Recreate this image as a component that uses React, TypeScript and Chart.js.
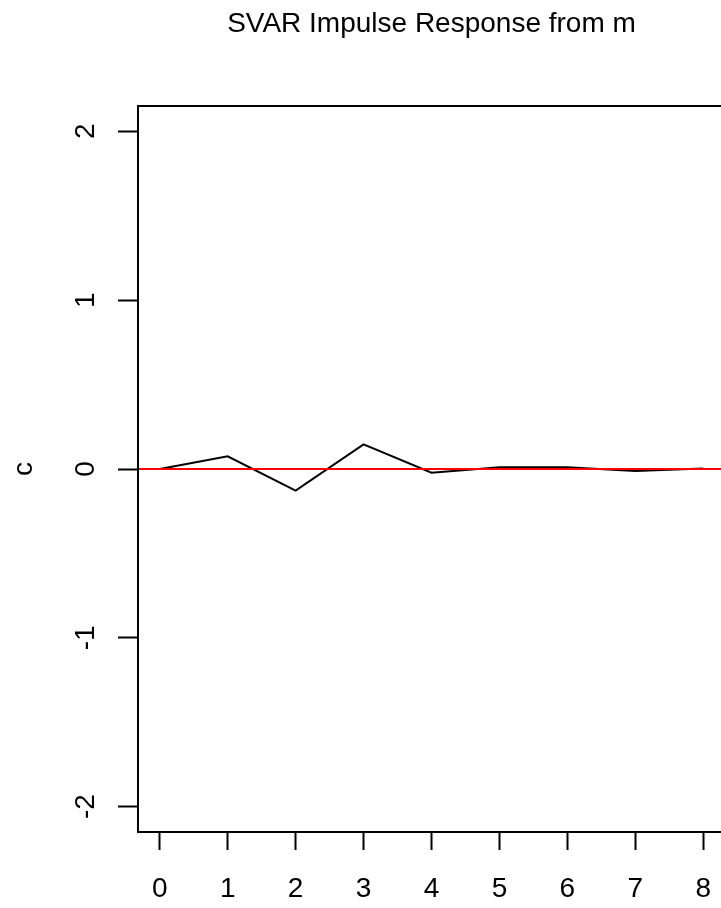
import React, { useEffect, useRef } from "react";
import { Chart, registerables } from "chart.js";

Chart.register(...registerables);

const TITLE = "SVAR Impulse Response from m";
const Y_LABEL = "c";
const HORIZON = [0, 1, 2, 3, 4, 5, 6, 7, 8];
const RESPONSE = [0, 0.075, -0.128, 0.146, -0.022, 0.01, 0.01, -0.012, 0.003];
const X_TICKS = [0, 1, 2, 3, 4, 5, 6, 7, 8];
const Y_TICKS = [-2, -1, 0, 1, 2];
const X_RANGE = [-0.32, 8.32];
const Y_RANGE = [-2.15, 2.15];
const ZERO_LINE = 0;

const FONT = "'Liberation Sans', Arial, sans-serif";

const framePlugin = {
  id: "frame",
  afterDatasetsDraw(chart: any) {
    const { ctx, chartArea, scales } = chart;
    const { left, right, top, bottom } = chartArea;
    const yz = scales.y.getPixelForValue(ZERO_LINE);
    ctx.save();
    ctx.strokeStyle = "#ff0000";
    ctx.lineWidth = 2;
    ctx.beginPath();
    ctx.moveTo(left, yz);
    ctx.lineTo(right, yz);
    ctx.stroke();
    ctx.strokeStyle = "#000000";
    ctx.lineWidth = 2;
    ctx.strokeRect(left, top, right - left, bottom - top);
    ctx.restore();
  },
};

export default function App() {
  const ref = useRef<HTMLCanvasElement | null>(null);

  useEffect(() => {
    document.body.style.margin = "0";
    const canvas = ref.current;
    if (!canvas) return;
    const chart = new Chart(canvas, {
      type: "line",
      data: {
        datasets: [
          {
            data: HORIZON.map((h, i) => ({ x: h, y: RESPONSE[i] })),
            borderColor: "#000000",
            borderWidth: 2,
            pointRadius: 0,
            tension: 0,
            fill: false,
          },
        ],
      },
      options: {
        responsive: false,
        animation: false,
        layout: { padding: { left: 0, right: 9, top: 0, bottom: 0 } },
        plugins: {
          legend: { display: false },
          tooltip: { enabled: false },
          title: {
            display: true,
            text: TITLE,
            fullSize: false,
            color: "#000000",
            font: { family: FONT, size: 28, weight: "normal" },
            padding: { top: 7, bottom: 65.4 },
          },
        },
        scales: {
          x: {
            type: "linear",
            min: X_RANGE[0],
            max: X_RANGE[1],
            afterBuildTicks: (s: any) => {
              s.ticks = X_TICKS.map((v) => ({ value: v }));
            },
            afterFit: (s: any) => {
              s.height = 76;
            },
            border: { display: false },
            grid: {
              drawOnChartArea: false,
              drawTicks: true,
              tickLength: 18,
              tickColor: "#000000",
              tickWidth: 2,
            },
            ticks: {
              color: "#000000",
              font: { family: FONT, size: 28 },
              padding: 22,
              maxRotation: 0,
              minRotation: 0,
              autoSkip: false,
              callback: (v: any) => String(v),
            },
          },
          y: {
            type: "linear",
            min: Y_RANGE[0],
            max: Y_RANGE[1],
            afterBuildTicks: (s: any) => {
              s.ticks = Y_TICKS.map((v) => ({ value: v }));
            },
            afterFit: (s: any) => {
              s.width = 138;
            },
            border: { display: false },
            grid: {
              drawOnChartArea: false,
              drawTicks: true,
              tickLength: 20,
              tickColor: "#000000",
              tickWidth: 2,
            },
            ticks: {
              color: "#000000",
              font: { family: FONT, size: 28 },
              padding: 19.5,
              minRotation: 90,
              maxRotation: 90,
              crossAlign: "center",
              autoSkip: false,
              callback: (v: any) => String(v),
            },
            title: {
              display: true,
              text: Y_LABEL,
              color: "#000000",
              font: { family: FONT, size: 28 },
              padding: { top: 7, bottom: 0 },
            },
          },
        },
      },
      plugins: [framePlugin],
    });
    return () => chart.destroy();
  }, []);

  return (
    <div style={{ width: 721, height: 908, overflow: "hidden", background: "#ffffff" }}>
      <canvas ref={ref} width={734} height={908} />
    </div>
  );
}
